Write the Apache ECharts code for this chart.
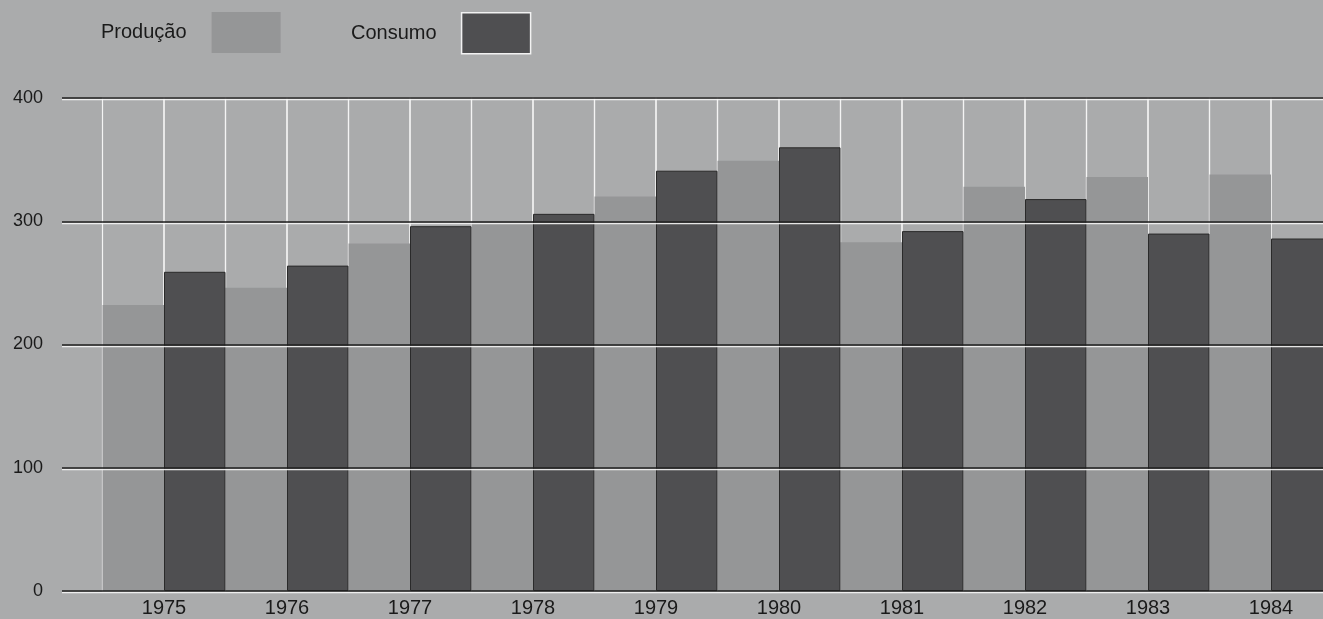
<!DOCTYPE html>
<html><head><meta charset="utf-8">
<script src="https://cdn.jsdelivr.net/npm/echarts@6/dist/echarts.min.js"></script>
<style>html,body{margin:0;padding:0;background:#aaabac}#c{width:1323px;height:619px}</style>
</head><body><div id="c"></div>
<script>
const years = ['1975','1976','1977','1978','1979','1980','1981','1982','1983','1984'];
const producao = [232, 246, 282, 300, 320, 349, 283, 328, 336, 338];
const consumo = [259, 264, 296, 306, 341, 360, 292, 318, 290, 286];
const yTicks = [0, 100, 200, 300, 400];

const chart = echarts.init(document.getElementById('c'), null, {renderer: 'canvas'});
const font = 'Liberation Sans, Arial, Helvetica, sans-serif';
const legendBase = {
  top: 12, align: 'right', orient: 'horizontal', padding: 0,
  itemWidth: 69, itemHeight: 41, icon: 'rect',
  selectedMode: false,
  textStyle: {fontFamily: font, fontSize: 20, color: '#1a1a1a', padding: [4, 20, 0, 0]}
};
chart.setOption({
  backgroundColor: '#aaabac',
  animation: false,
  legend: [
    Object.assign({}, legendBase, {left: 101,
      data: [{name: 'Produção', itemStyle: {color: '#959697', borderWidth: 0}}]}),
    Object.assign({}, legendBase, {left: 351,
      data: [{name: 'Consumo', itemStyle: {color: '#4f4f51', borderColor: '#f2f2f2', borderWidth: 1.5}}]})
  ],
  grid: [
    {left: 62, right: 0, top: 98, bottom: 28, outerBoundsMode: 'none'},
    {left: 102.5, right: -9.5, top: 98, bottom: 28, outerBoundsMode: 'none'}
  ],
  xAxis: [
    {gridIndex: 0, type: 'value', show: false, min: 0, max: 1},
    {gridIndex: 1, type: 'category', data: years,
      axisLine: {show: false}, axisTick: {show: false},
      axisLabel: {fontFamily: font, fontSize: 20, color: '#1a1a1a', margin: 7}}
  ],
  yAxis: [
    {gridIndex: 0, type: 'value', min: yTicks[0], max: yTicks[yTicks.length-1], interval: 100, z: 10,
      axisLine: {show: false}, axisTick: {show: false},
      axisLabel: {fontFamily: font, fontSize: 18, color: '#1a1a1a', margin: 19},
      splitLine: {show: true, lineStyle: {color: '#1e1e1e', width: 1.5, shadowColor: 'rgba(245,245,245,0.9)', shadowOffsetY: 1.5, shadowBlur: 0}}
    },
    {gridIndex: 1, type: 'value', min: 0, max: 400, show: false, splitLine: {show: false}}
  ],
  series: [
    {name: 'Produção', type: 'bar', xAxisIndex: 1, yAxisIndex: 1, data: producao,
      barGap: '0%', barCategoryGap: '0%',
      showBackground: true,
      backgroundStyle: {color: 'rgba(0,0,0,0)', borderColor: '#f4f4f4', borderWidth: 1.2},
      itemStyle: {color: '#959697'}},
    {name: 'Consumo', type: 'bar', xAxisIndex: 1, yAxisIndex: 1, data: consumo,
      barGap: '0%', barCategoryGap: '0%',
      showBackground: true,
      backgroundStyle: {color: 'rgba(0,0,0,0)', borderColor: '#f4f4f4', borderWidth: 1.2},
      itemStyle: {color: '#4f4f51', borderColor: '#2a2a2a', borderWidth: 1}}
  ]
});
</script></body></html>
